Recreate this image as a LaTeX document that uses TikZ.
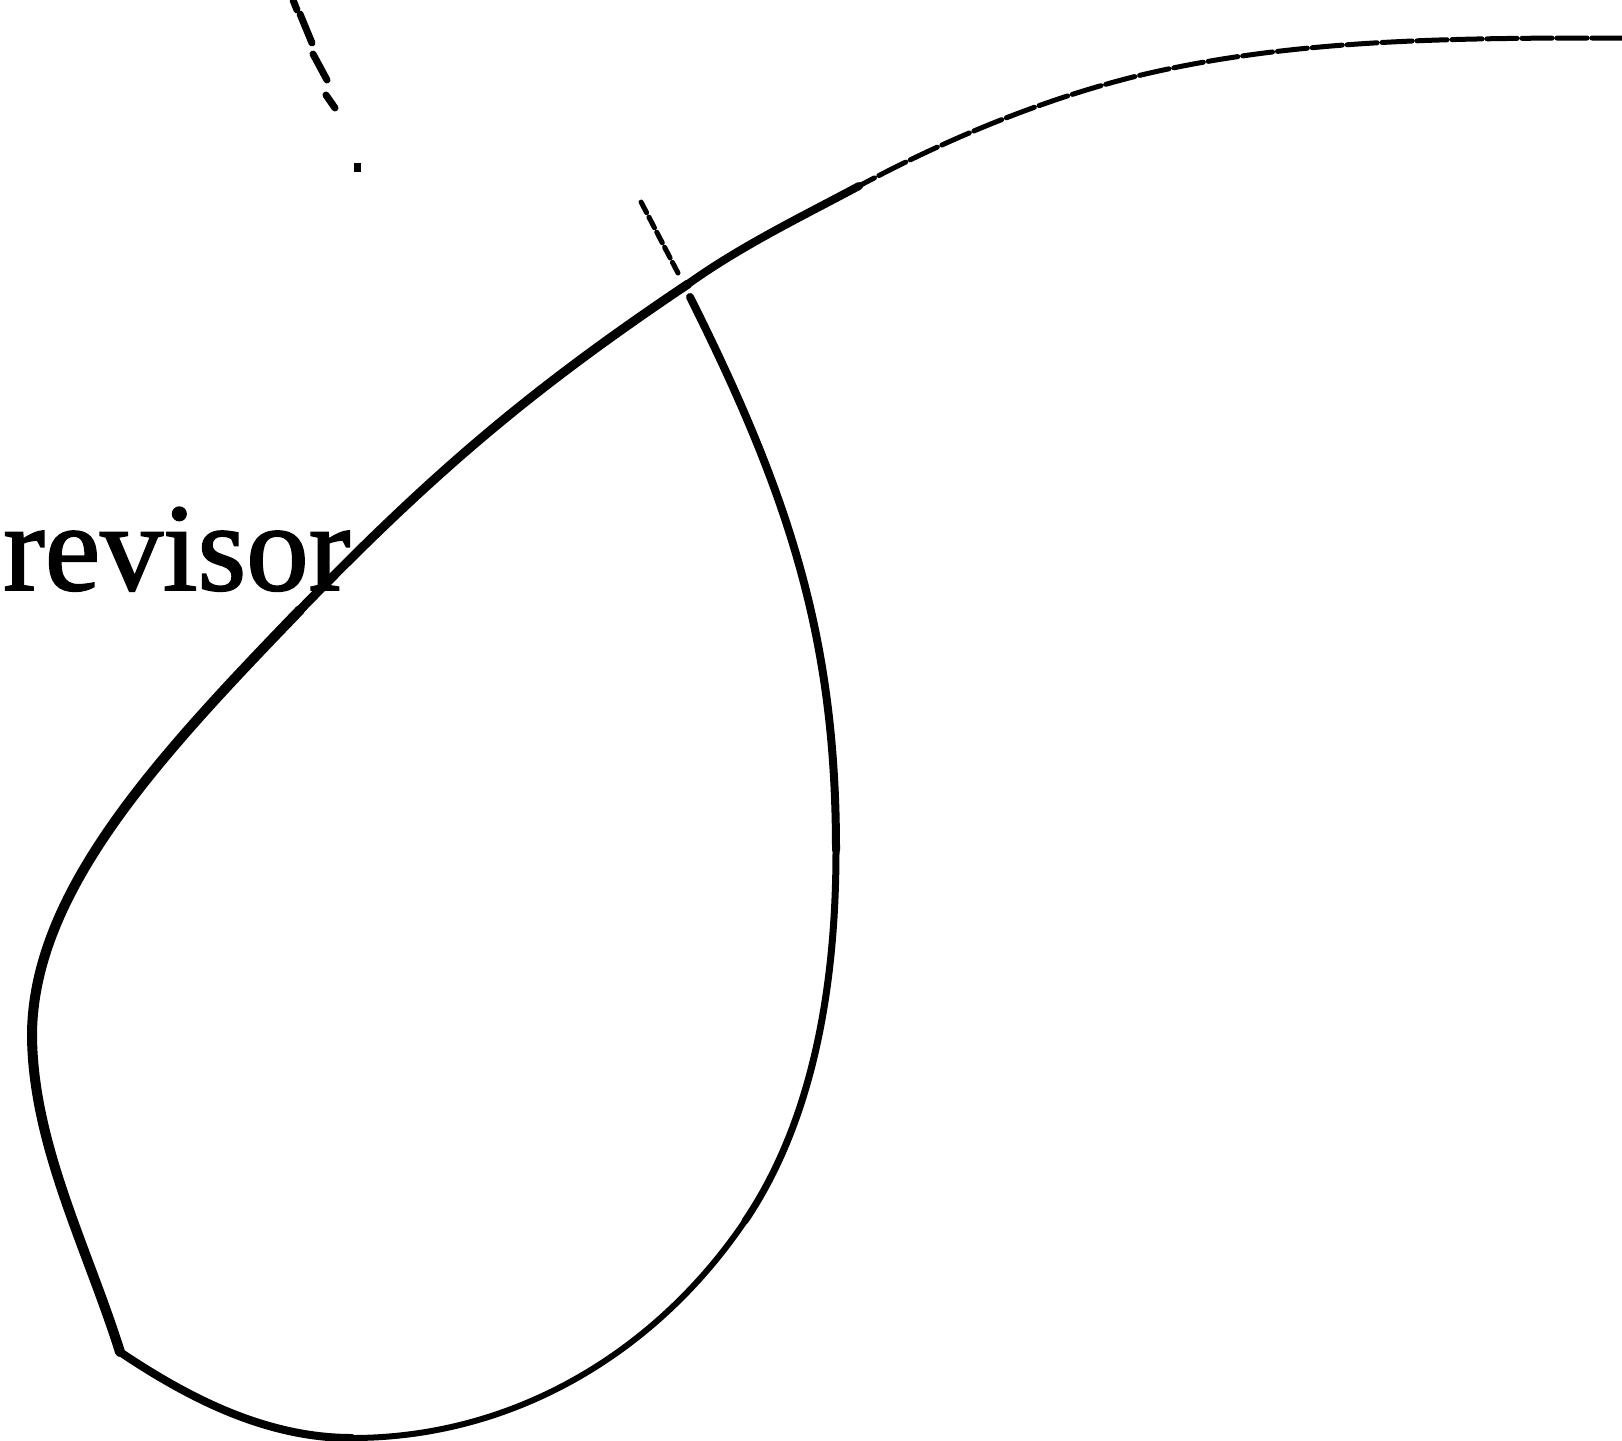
\documentclass[tikz,border=0pt]{standalone}
\usepackage{fontspec}
\setmainfont{Liberation Serif}[FakeBold=1.5]
\begin{document}
\begin{tikzpicture}[x=1pt,y=-1pt,
  curve/.style={line cap=round,line join=round,black},
  faint/.style={curve,line width=5pt,dash pattern=on 30pt off 5pt},
  tick/.style={curve,line width=7pt}]
\useasboundingbox[fill=white] (0,0) rectangle (1622,1440);
% key points of the curves
\coordinate (P0) at (1622,38);
\coordinate (Q)  at (1133,77);
\coordinate (P1) at (859,186);
\coordinate (C)  at (688,284);
\coordinate (P2) at (300,610);
\coordinate (P3) at (32,1033);
\coordinate (P4) at (120,1352);
\coordinate (P5) at (352,1438);
\coordinate (P6) at (745,1221);
\coordinate (P7) at (836,850);
\coordinate (P8) at (690,297);
% top right faint part of the long curve
\draw[faint] (P0) .. controls (1459,38) and (1291,38) .. (Q)
  .. controls (1038,101) and (945,140) .. (P1);
% the loop
\draw[curve,line width=8pt] (P1) .. controls (801,217) and (741,246) .. (C);
\draw[curve,line width=9pt] (C) .. controls (530,390) and (433,473) .. (P2);
\draw[curve,line width=10pt] (P2) .. controls (160,755) and (34,890) .. (P3);
\draw[curve,line width=10pt] (P3) .. controls (32,1143) and (87,1247) .. (P4);
\draw[curve,line width=8pt] (P4) .. controls (190,1399) and (267,1438) .. (P5);
\draw[curve,line width=6pt] (P5) .. controls (512,1438) and (655,1354) .. (P6);
\draw[curve,line width=7pt] (P6) .. controls (816,1116) and (836,977) .. (P7);
\draw[curve,line width=8pt] (P7) .. controls (836,640) and (790,497) .. (P8);
% broken continuation above the crossing
\coordinate (D1) at (678,273);
\coordinate (D2) at (640,200);
\draw[curve,line width=5pt,dash pattern=on 12pt off 5pt] (D1) -- (D2);
% dashes at the top left
\draw[tick] (293,0) -- (297,10);
\draw[tick] (300,14) -- (312,43);
\draw[tick] (313,54) -- (327,80);
\draw[tick] (326,95) -- (335,108);
\fill (354,163) rectangle (361,172);
% label
\node[anchor=base west,inner sep=0pt,font=\fontsize{125}{140}\selectfont] (lbl) at (3,590) {revisor};
\end{tikzpicture}
\end{document}
